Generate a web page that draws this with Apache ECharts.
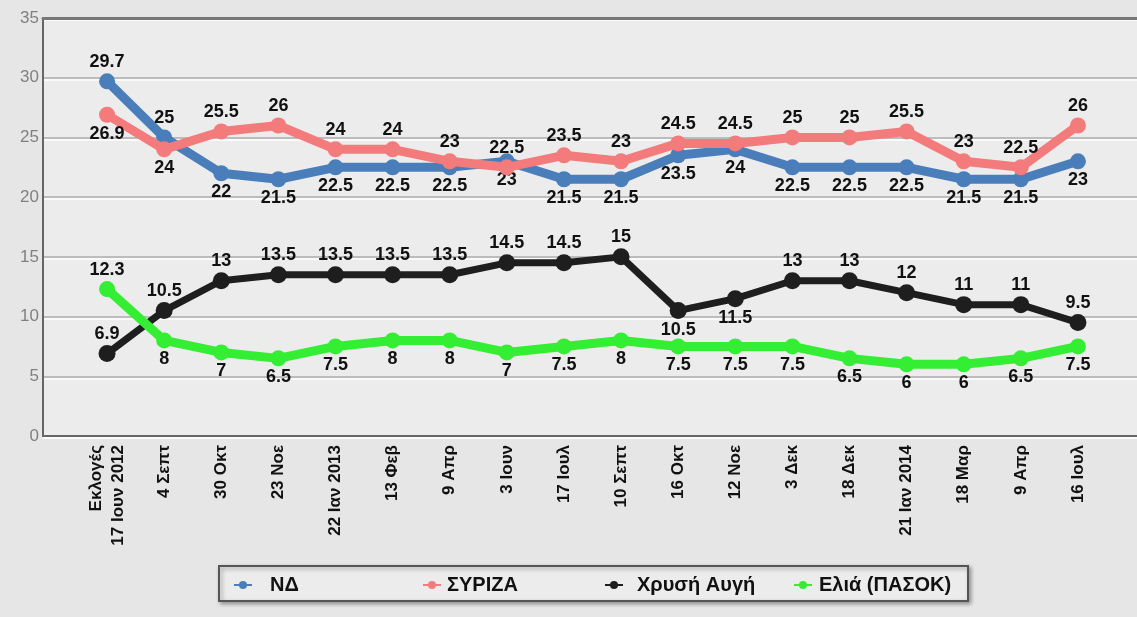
<!DOCTYPE html>
<html><head><meta charset="utf-8">
<script src="https://cdn.jsdelivr.net/npm/echarts@6/dist/echarts.min.js"></script>
<style>html,body{margin:0;padding:0;background:#e6e6e6;}#c{width:1137px;height:617px;}</style>
</head><body><div id="c"></div>
<script>
const categories = ['Εκλογές\n17 Ιουν 2012','4 Σεπτ','30 Οκτ','23 Νοε','22 Ιαν 2013','13 Φεβ','9 Απρ','3 Ιουν','17 Ιουλ','10 Σεπτ','16 Οκτ','12 Νοε','3 Δεκ','18 Δεκ','21 Ιαν 2014','18 Μαρ','9 Απρ','16 Ιουλ'];
const seriesNames = ['ΝΔ','ΣΥΡΙΖΑ','Χρυσή Αυγή','Ελιά (ΠΑΣΟΚ)'];
const nd     = [29.7,25,22,21.5,22.5,22.5,22.5,23,21.5,21.5,23.5,24,22.5,22.5,22.5,21.5,21.5,23];
const syriza = [26.9,24,25.5,26,24,24,23,22.5,23.5,23,24.5,24.5,25,25,25.5,23,22.5,26];
const xa     = [6.9,10.5,13,13.5,13.5,13.5,13.5,14.5,14.5,15,10.5,11.5,13,13,12,11,11,9.5];
const elia   = [12.3,8,7,6.5,7.5,8,8,7,7.5,8,7.5,7.5,7.5,6.5,6,6,6.5,7.5];
const yTicks = [0,5,10,15,20,25,30,35];

// styling (not data)
const colors = ['#4a7ebb','#f47b7b','#1e1e1e','#33ee33'];
const defaultPos = ['bottom','top','top','bottom'];
const flipIdx = [[0,1],[0,1],[10,11],[0]];
const flipPos = ['top','bottom','bottom','top'];
const allData = [nd, syriza, xa, elia];

const font = '"Liberation Sans", Arial, sans-serif';
const yMin = yTicks[0], yMax = yTicks[yTicks.length-1], yInt = yTicks[1]-yTicks[0];

const series = allData.map((arr, s) => ({
  name: seriesNames[s],
  type: 'line',
  xAxisIndex: 1, yAxisIndex: 1,
  data: arr.map((v, i) => ({
    value: v,
    label: { position: flipIdx[s].includes(i) ? flipPos[s] : defaultPos[s] }
  })),
  symbol: 'circle',
  symbolSize: s === 2 ? 17 : 16,
  color: colors[s],
  lineStyle: { width: s === 2 ? 7 : 9, color: colors[s] },
  itemStyle: { color: colors[s] },
  label: { show: true, distance: 2, color: '#111', fontSize: 18, fontWeight: 'bold', fontFamily: font },
  emphasis: { disabled: true },
  animation: false,
  z: 3 + s
}));

const legendIconX = [228, 417, 599, 788];
const legendPad = [13, 1, 9, 2];
const legends = seriesNames.map((n, i) => ({
  data: [n],
  left: legendIconX[i], top: 570,
  itemWidth: 18, itemHeight: 10, itemGap: 0,
  textStyle: { color: '#111', fontSize: 20, fontWeight: 'bold', fontFamily: font, padding: [0, 0, 0, legendPad[i]] },
  selectedMode: false
}));

const chart = echarts.init(document.getElementById('c'), null, {renderer: 'canvas'});
chart.setOption({
  backgroundColor: '#e6e6e6',
  animation: false,
  grid: [
    { left: 43, right: 0, top: 18, bottom: 181, show: true, backgroundColor: '#ececec', borderWidth: 0 },
    { left: 78.5, right: 30.5, top: 18, bottom: 181 }
  ],
  xAxis: [
    { gridIndex: 0, type: 'value', min: 0, max: 1, axisLabel: {show:false}, axisTick:{show:false}, splitLine:{show:false},
      axisLine: { show: true, onZero: false, lineStyle: { color: '#666', width: 2 } } },
    { gridIndex: 1, type: 'category', data: categories, boundaryGap: true,
      axisLine: {show:false}, axisTick: {show:false},
      axisLabel: { rotate: 90, interval: 0, margin: 9, color: '#111', fontSize: 17, fontWeight: 'bold', fontFamily: font, lineHeight: 22 } },
    { gridIndex: 0, type: 'value', position: 'top', min: 0, max: 1, axisLabel: {show:false}, axisTick:{show:false}, splitLine:{show:false},
      axisLine: { show: true, onZero: false, lineStyle: { color: '#777', width: 3 } } }
  ],
  yAxis: [
    { gridIndex: 0, type: 'value', min: yMin, max: yMax, interval: yInt,
      axisLine: { show: true, onZero: false, lineStyle: { color: '#666', width: 2 } },
      axisTick: { show: false },
      axisLabel: { color: '#808080', fontSize: 17, fontFamily: '"Liberation Sans Narrow", "Liberation Sans", sans-serif', margin: 4 },
      splitLine: { show: true, lineStyle: { color: '#bcbcbc', width: 2, shadowColor: '#fafafa', shadowOffsetY: 2, shadowBlur: 0 } } },
    { gridIndex: 1, type: 'value', min: yMin, max: yMax, interval: yInt, show: false, splitLine: {show:false} }
  ],
  graphic: [
    { type: 'rect', left: 218, top: 565, shape: { width: 749, height: 35 },
      style: { fill: '#ececec', stroke: '#555', lineWidth: 2, shadowColor: 'rgba(0,0,0,0.35)', shadowBlur: 4, shadowOffsetX: 2, shadowOffsetY: 2 }, z: 0 }
  ],
  legend: legends,
  series: series
});
</script></body></html>
